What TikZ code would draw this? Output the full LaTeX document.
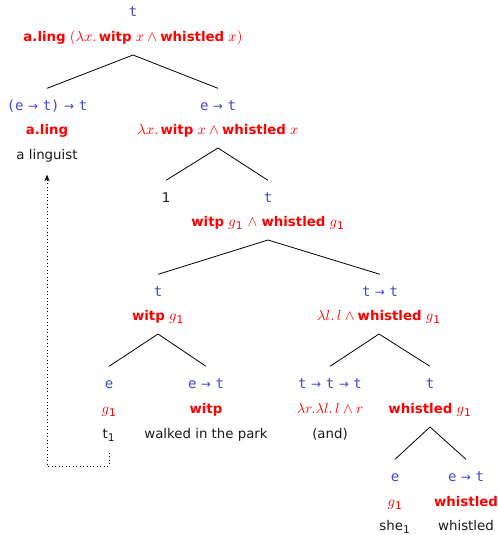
\documentclass[tikz,border=0pt]{standalone}
\usepackage{fontspec}
\setmainfont{DejaVu Sans}
\setmonofont{DejaVu Sans Mono}
\usetikzlibrary{arrows.meta}
% math letters set a little larger so they sit well beside the sans text
\DeclareMathSizes{10}{11.2}{8}{6}
\definecolor{typeblue}{RGB}{70,70,205}
\definecolor{semred}{RGB}{255,0,0}
% semantic types: typewriter letters, sans arrow with tight spacing
\newcommand{\ty}[1]{{\fontsize{10.5}{12}\selectfont\ttfamily #1}}
\newcommand{\ar}{\kern3.4pt{\rmfamily\fontsize{9}{11}\selectfont →}\kern3.4pt}
\newcommand{\sub}[1]{\textsubscript{#1}}
\tikzset{
  lbl/.style={inner sep=0pt, text height=7pt, text depth=2pt, anchor=center,
              font=\fontsize{10}{12}\selectfont},
  tynode/.style={lbl, text=typeblue},
  semnode/.style={lbl, text=semred},
  wordnode/.style={lbl, text=black!90},
  branch/.style={draw=black, line width=0.6pt},
  trace/.style={draw=black, dotted, line width=0.6pt, -{Stealth[length=5pt,width=4pt]}}
}
\begin{document}
\begin{tikzpicture}[x=0.75pt,y=-0.75pt]
\useasboundingbox (0,0) rectangle (498,535);

% root
\node[tynode]  (top-ty)  at (133,13) {\ty{t}};
\node[semnode] (top-sem) at (133,38) {\textbf{a.ling} $(\lambda x.$\,\textbf{witp} $x\wedge{}$\textbf{whistled} $x)$};

% quantifier
\node[tynode]   (ling-ty)   at (47,107) {\ty{(e\ar t)\ar t}};
\node[semnode]  (ling-sem)  at (47,131) {\textbf{a.ling}};
\node[wordnode] (ling-word) at (47,156) {a linguist};

% lambda abstraction
\node[tynode]  (vp-ty)  at (218,107) {\ty{e\ar t}};
\node[semnode] (vp-sem) at (218,131) {$\lambda x.$\,\textbf{witp} $x\wedge{}$\textbf{whistled} $x$};

\node[wordnode] (idx) at (166,199) {1};
\node[tynode]  (s-ty)  at (268,199) {\ty{t}};
\node[semnode] (s-sem) at (268,223) {\textbf{witp} $g$\sub{1} $\wedge$ \textbf{whistled} $g$\sub{1}};

% left conjunct
\node[tynode]  (l-ty)  at (158,293) {\ty{t}};
\node[semnode] (l-sem) at (158,317) {\textbf{witp} $g$\sub{1}};

% right part
\node[tynode]  (r-ty)  at (380,293) {\ty{t\ar t}};
\node[semnode] (r-sem) at (379,317) {$\lambda l.\,l\wedge{}$\textbf{whistled} $g$\sub{1}};

% trace and verb phrase
\node[tynode]   (tr-ty)   at (109,385) {\ty{e}};
\node[semnode]  (tr-sem)  at (109,410) {$g$\sub{1}};
\node[wordnode] (tr-word) at (109,435) {t\sub{1}};

\node[tynode]   (walk-ty)   at (206,385) {\ty{e\ar t}};
\node[semnode]  (walk-sem)  at (206,410) {\textbf{witp}};
\node[wordnode] (walk-word) at (206,435) {walked in the park};

% conjunction
\node[tynode]   (and-ty)   at (330,385) {\ty{t\ar t\ar t}};
\node[semnode]  (and-sem)  at (330,410) {$\lambda r.\lambda l.\,l\wedge r$};
\node[wordnode] (and-word) at (330,435) {(and)};

\node[tynode]  (w-ty)  at (430,385) {\ty{t}};
\node[semnode] (w-sem) at (430,410) {\textbf{whistled} $g$\sub{1}};

% pronoun and verb
\node[tynode]   (she-ty)   at (395,478) {\ty{e}};
\node[semnode]  (she-sem)  at (395,503) {$g$\sub{1}};
\node[wordnode] (she-word) at (395,527) {she\sub{1}};

\node[tynode]   (wh-ty)   at (466,478) {\ty{e\ar t}};
\node[semnode]  (wh-sem)  at (466,503) {\textbf{whistled}};
\node[wordnode] (wh-word) at (466,527) {whistled};

% branches
\foreach \p/\c in {top-sem/ling-ty, top-sem/vp-ty,
                   vp-sem/idx, vp-sem/s-ty,
                   s-sem/l-ty, s-sem/r-ty,
                   l-sem/tr-ty, l-sem/walk-ty,
                   r-sem/and-ty, r-sem/w-ty,
                   w-sem/she-ty, w-sem/wh-ty}
  \draw[branch] ([yshift=-12.75pt]\p.center) -- ([yshift=14pt]\c.center);

% movement trace
\draw[trace] ([yshift=-13.5pt]tr-word.center) -- ++(0,13) -| ([yshift=-14pt]ling-word.center);
\end{tikzpicture}
\end{document}
